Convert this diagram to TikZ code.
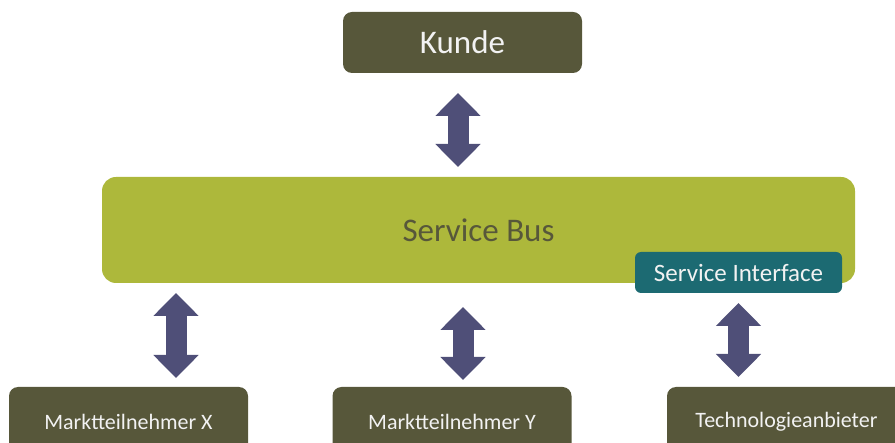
\documentclass[tikz,border=0pt]{standalone}
\usepackage{fontspec}
\setmainfont{Carlito}
\usetikzlibrary{arrows.meta}

\definecolor{olivebox}{HTML}{57573A}
\definecolor{busgreen}{HTML}{ADB83B}
\definecolor{ifteal}{HTML}{1C6A72}
\definecolor{arrowblue}{HTML}{4F4F78}
\definecolor{boxtext}{HTML}{F2F2F2}

\begin{document}
\begin{tikzpicture}[x=1pt, y=1pt,
    party/.style={rectangle, rounded corners=9pt, fill=olivebox, text=boxtext, minimum width=239pt, inner sep=0pt},
    dblarrow/.style={draw=arrowblue, line width=21pt, {Triangle[width=44pt, length=23pt]}-{Triangle[width=44pt, length=23pt]}}]
    \useasboundingbox (0, 0) rectangle (895, -443);
    \clip (0, 0) rectangle (895, -443);
    \node[party, minimum height=61pt, font=\fontsize{33}{40}\selectfont] (kunde) at (462.5, -42.5) {Kunde};
    \node[rectangle, rounded corners=14pt, fill=busgreen, text=olivebox, minimum width=753pt, minimum height=106pt, inner sep=0pt, font=\fontsize{33}{40}\selectfont] (bus) at (478.5, -230) {Service Bus};
    \node[rectangle, rounded corners=6pt, fill=ifteal, text=boxtext, minimum width=207pt, minimum height=41pt, inner sep=0pt, font=\fontsize{25}{30}\selectfont] (iface) at (738.5, -272.5) {Service Interface};
    \node[party, minimum height=70pt, font=\fontsize{22}{26}\selectfont] (mtx) at (128.5, -422) {Marktteilnehmer X};
    \node[party, minimum height=70pt, font=\fontsize{22}{26}\selectfont] (mty) at (452, -422) {Marktteilnehmer Y};
    \node[party, minimum height=70pt, font=\fontsize{22}{26}\selectfont] (tech) at (786.5, -422) {Technologieanbieter};
    \coordinate (k1) at (458, -93);
    \coordinate (k2) at (458, -167);
    \coordinate (x1) at (176, -293);
    \coordinate (x2) at (176, -378);
    \coordinate (y1) at (463, -307);
    \coordinate (y2) at (463, -380);
    \coordinate (t1) at (738.5, -303);
    \coordinate (t2) at (738.5, -377);
    \draw[dblarrow] (k1) -- (k2);
    \draw[dblarrow] (x1) -- (x2);
    \draw[dblarrow] (y1) -- (y2);
    \draw[dblarrow] (t1) -- (t2);
\end{tikzpicture}
\end{document}
